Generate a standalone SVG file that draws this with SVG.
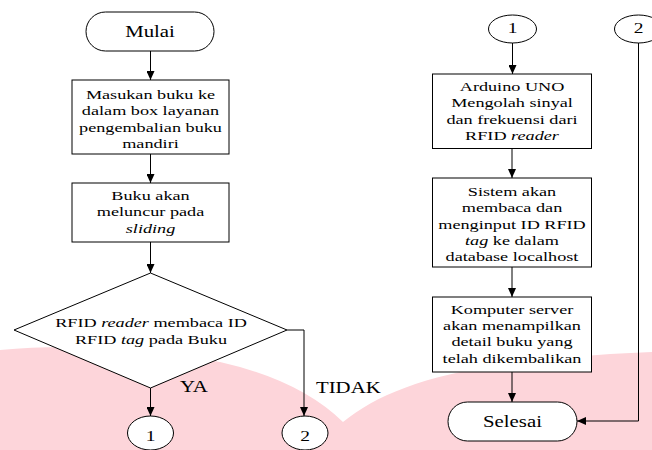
<svg xmlns="http://www.w3.org/2000/svg" width="652" height="450" viewBox="0 0 652 450">
<style>
.s{fill:#fff;stroke:#000;stroke-width:1}
.c{fill:none;stroke:#000;stroke-width:1}
text{font-family:'Liberation Serif','Tinos','DejaVu Serif','Times New Roman',serif;fill:#000}
.t{font-size:13px;text-anchor:middle}
.b{font-size:16px;text-anchor:middle}
.l{font-size:16px}
.d{font-size:15px;text-anchor:middle}
.i{font-style:italic}
</style>
<defs>
<marker id="ah" markerUnits="userSpaceOnUse" markerWidth="9" markerHeight="8" refX="9" refY="4" orient="auto">
<path d="M0,0 L9,4 L0,8 z" fill="#000"/>
</marker>
</defs>
<rect width="652" height="450" fill="#fff"/>
<path d="M0,350 Q100,340 220,362 Q300,380 343,422 C390,385 460,360 652,352 L652,450 L0,450 Z" fill="#FDD5DA"/>

<g id="connectors" class="c" marker-end="url(#ah)">
<path d="M150.5,51 V80"/>
<path d="M150.5,154 V183"/>
<path d="M150.5,242 V273"/>
<path d="M150.5,388 V416"/>
<path d="M287,330 H304 V416"/>
<path d="M512.5,43 V74"/>
<path d="M512,148.5 V178"/>
<path d="M512,267 V297"/>
<path d="M512,372 V402"/>
<path d="M638.5,43 V421 H577"/>
</g>

<g id="mulai">
<rect class="s" x="86" y="12" width="128" height="39" rx="19.5"/>
<g transform="translate(150,37) scale(1.3,1)"><text class="b" x="0" y="0" font-family="Liberation Serif, serif">Mulai</text></g>
</g>

<g id="box1">
<rect class="s" x="72" y="80" width="157" height="74"/>
<g transform="translate(150.5,0) scale(1.4,1)">
<text class="t" x="0" y="99">Masukan buku ke</text>
<text class="t" x="0" y="115.5">dalam box layanan</text>
<text class="t" x="0" y="132">pengembalian buku</text>
<text class="t" x="0" y="148.5">mandiri</text>
</g>
</g>

<g id="box2">
<rect class="s" x="72" y="183" width="157" height="59"/>
<g transform="translate(150.5,0) scale(1.4,1)">
<text class="t" x="0" y="200">Buku akan</text>
<text class="t" x="0" y="216.5">meluncur pada</text>
<text class="t" x="0" y="233"><tspan class="i">sliding</tspan></text>
</g>
</g>

<g id="decision">
<polygon class="s" points="150.5,273 287,330 150.5,388 14,330"/>
<g transform="translate(151,0) scale(1.4,1)">
<text class="t" x="0" y="327.5">RFID <tspan class="i">reader</tspan> membaca ID</text>
<text class="t" x="0" y="344">RFID <tspan class="i">tag</tspan> pada Buku</text>
</g>
</g>

<g id="label-ya"><g transform="translate(180,392) scale(1.3,1)"><text class="l" x="0" y="0">YA</text></g></g>
<g id="label-tidak"><g transform="translate(316,392.5) scale(1.3,1)"><text class="l" x="0" y="0">TIDAK</text></g></g>

<g id="conn1-out">
<ellipse class="s" cx="150.5" cy="433" rx="23" ry="17"/>
<g transform="translate(150.5,440.5) scale(1.3,1)"><text class="d" x="0" y="0">1</text></g>
</g>
<g id="conn2-out">
<ellipse class="s" cx="305" cy="433" rx="23" ry="17"/>
<g transform="translate(305,440.5) scale(1.3,1)"><text class="d" x="0" y="0">2</text></g>
</g>

<g id="conn1-in">
<ellipse class="s" cx="512.5" cy="29" rx="24" ry="14"/>
<g transform="translate(512.5,32.5) scale(1.3,1)"><text class="d" x="0" y="0">1</text></g>
</g>
<g id="conn2-in">
<ellipse class="s" cx="638.5" cy="29" rx="24" ry="14"/>
<g transform="translate(638.5,32.5) scale(1.3,1)"><text class="d" x="0" y="0">2</text></g>
</g>

<g id="boxA">
<rect class="s" x="432.5" y="74" width="159" height="74.5"/>
<g transform="translate(512,0) scale(1.4,1)">
<text class="t" x="0" y="91">Arduino UNO</text>
<text class="t" x="0" y="107.5">Mengolah sinyal</text>
<text class="t" x="0" y="124">dan frekuensi dari</text>
<text class="t" x="0" y="140.5">RFID <tspan class="i">reader</tspan></text>
</g>
</g>

<g id="boxB">
<rect class="s" x="432.5" y="178" width="159" height="89"/>
<g transform="translate(512,0) scale(1.4,1)">
<text class="t" x="0" y="196">Sistem akan</text>
<text class="t" x="0" y="212.5">membaca dan</text>
<text class="t" x="0" y="229">menginput ID RFID</text>
<text class="t" x="0" y="245.5"><tspan class="i">tag</tspan> ke dalam</text>
<text class="t" x="0" y="261.5">database localhost</text>
</g>
</g>

<g id="boxC">
<rect class="s" x="432.5" y="297" width="159" height="75"/>
<g transform="translate(512,0) scale(1.4,1)">
<text class="t" x="0" y="314">Komputer server</text>
<text class="t" x="0" y="330.5">akan menampilkan</text>
<text class="t" x="0" y="346.5">detail buku yang</text>
<text class="t" x="0" y="363">telah dikembalikan</text>
</g>
</g>

<g id="selesai">
<rect class="s" x="448" y="402" width="129" height="39" rx="19.5"/>
<g transform="translate(512.5,427) scale(1.3,1)"><text class="b" x="0" y="0">Selesai</text></g>
</g>
</svg>
